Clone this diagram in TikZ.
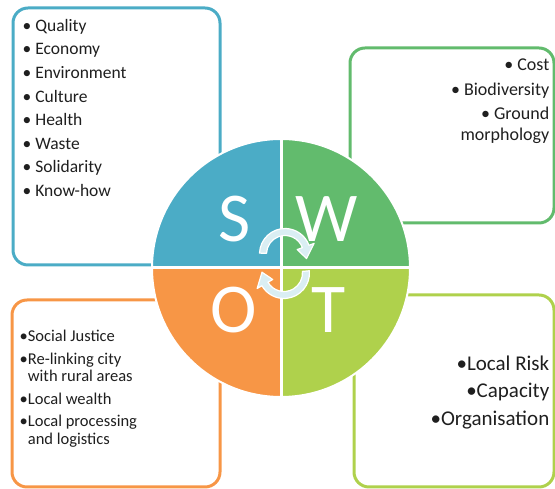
\documentclass[tikz,border=0pt]{standalone}
\usepackage{fontspec}
\setmainfont{Carlito}
\usetikzlibrary{positioning}

\definecolor{sblue}{HTML}{4BACC6}
\definecolor{wgreen}{HTML}{62BB6D}
\definecolor{oorange}{HTML}{F79646}
\definecolor{tlime}{HTML}{AFD14C}
\definecolor{turnblue}{HTML}{DAEEF3}

\begin{document}
\begin{tikzpicture}[x=1pt, y=1pt,
	box/.style={rectangle, draw, line width=3pt, rounded corners=15pt, inner sep=0pt},
	list/.style={inner sep=0pt, text=black!88},
	letter/.style={text=white, font=\fontsize{70}{70}\selectfont, inner sep=0pt},
	gap/.style={draw=white, line width=3pt},
	turn/.style={fill=turnblue, draw=white, line width=1.2pt, line join=round},
	]
	\useasboundingbox (0,0) rectangle (555,489);

	% Kaesten
	\node[box, draw=sblue, minimum width=207pt, minimum height=257pt] (sbox) at (116.5,352.5) {};
	\node[box, draw=wgreen, minimum width=204pt, minimum height=175pt] (wbox) at (452,353.5) {};
	\node[box, draw=oorange, minimum width=208pt, minimum height=187pt] (obox) at (116,95.5) {};
	\node[box, draw=tlime, minimum width=200pt, minimum height=192pt] (tbox) at (454,98) {};

	% Kreis
	\node[circle, minimum size=258pt, inner sep=0pt, draw=white, line width=2pt, path picture={
		\fill[sblue] (path picture bounding box.center) rectangle (path picture bounding box.north west);
		\fill[wgreen] (path picture bounding box.center) rectangle (path picture bounding box.north east);
		\fill[oorange] (path picture bounding box.center) rectangle (path picture bounding box.south west);
		\fill[tlime] (path picture bounding box.center) rectangle (path picture bounding box.south east);
	}] (swot) at (281,221) {};
	\path[gap] (swot.west) -- (swot.east);
	\path[gap] (swot.north) -- (swot.south);

	\node[letter, above left=49pt and 46pt of swot.center, anchor=center] (S) {S};
	\node[letter, above right=49pt and 46pt of swot.center, anchor=center] (W) {W};
	\node[letter, below left=42pt and 47pt of swot.center, anchor=center] (O) {O};
	\node[letter, below right=42pt and 48pt of swot.center, anchor=center] (T) {T};

	% Pfeile
	\begin{scope}[shift={(285,235)}]
		\path[turn] (178:25.5) arc[start angle=178, end angle=20, radius=25.5] -- (20:31) -- (-12:22)
			-- (20:13) -- (20:18.5) arc[start angle=20, end angle=178, radius=18.5] -- cycle;
	\end{scope}
	\begin{scope}[shift={(284,216)}]
		\path[turn] (5:25.5) arc[start angle=5, end angle=-150, radius=25.5] -- (-150:31) -- (-182:22)
			-- (-150:13) -- (-150:18.5) arc[start angle=-150, end angle=5, radius=18.5] -- cycle;
	\end{scope}

	% Texte (Anker an der letzten Grundlinie)
	\node[list, below right=190pt and 11pt of sbox.north west, anchor=base west, align=left,
		font=\fontsize{17.5}{23.6}\selectfont] (stext)
		{• Quality\\• Economy\\• Environment\\• Culture\\• Health\\• Waste\\• Solidarity\\• Know-how};
	\node[list, below left=94pt and 6pt of wbox.north east, anchor=base east, align=right,
		font=\fontsize{18}{20.5}\selectfont] (wtext)
		{• Cost\\[4pt]• Biodiversity\\[4pt]• Ground\\morphology};
	\node[list, below right=146pt and 9pt of obox.north west, anchor=base west, align=left,
		font=\fontsize{16.5}{17.5}\selectfont] (otext)
		{•Social Justice\\[5pt]•Re-linking city\\\phantom{•}with rural areas\\[5pt]•Local wealth\\[5pt]•Local processing\\\phantom{•}and logistics};
	\node[list, below left=132pt and 6pt of tbox.north east, anchor=base east, align=right,
		font=\fontsize{21}{27.5}\selectfont] (ttext)
		{•Local Risk\\•Capacity\\•Organisation};
\end{tikzpicture}
\end{document}
